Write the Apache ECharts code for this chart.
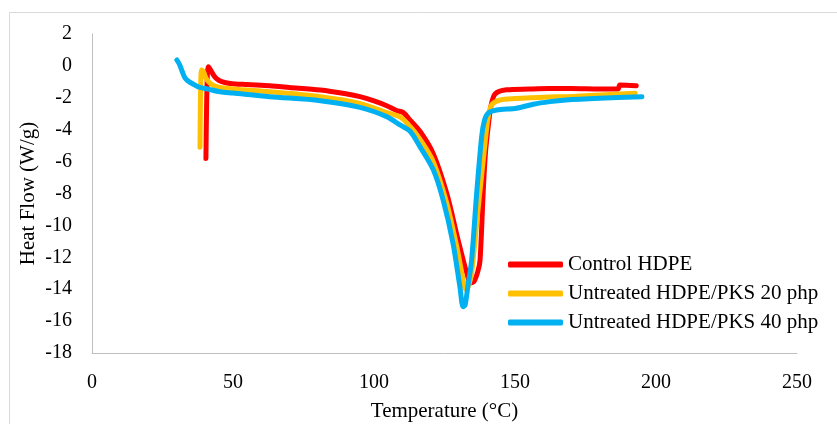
<!DOCTYPE html>
<html>
<head>
<meta charset="utf-8">
<script src="https://cdn.jsdelivr.net/npm/echarts@6/dist/echarts.min.js"></script>
<style>
  html, body { margin: 0; padding: 0; background: #fff; }
  #chart { width: 837px; height: 424px; }
</style>
</head>
<body>
<div id="chart"></div>
<script>
// series names
const seriesNames = ['Control HDPE', 'Untreated HDPE/PKS 20 php', 'Untreated HDPE/PKS 40 php'];
const seriesColors = ['#FF0000', '#FFC000', '#00B0F0'];

// [temperature (°C), heat flow (W/g)]
const controlHdpe = [
  [40.4, -5.8], [40.6, -3.0], [40.9, -0.6], [41.3, -0.05], [42.2, -0.3], [43.2, -0.6],
  [44.2, -0.8], [46, -0.98], [49, -1.1], [55, -1.17], [63, -1.25], [70, -1.35],
  [81, -1.51], [90, -1.75], [95, -1.93], [100, -2.2], [104.5, -2.5], [108, -2.8],
  [110.4, -2.93], [112.8, -3.4], [116.3, -4.1], [121, -5.5], [125.8, -8.0],
  [129.8, -10.9], [132.9, -13.0], [134.3, -13.6], [135.5, -13.5], [136.8, -12.9],
  [137.6, -12.2], [138.7, -8.0], [139.5, -5.5], [140.5, -3.8], [141.5, -2.5],
  [143, -1.75], [147, -1.5], [155, -1.45], [162, -1.42], [170, -1.42], [180, -1.45],
  [186.5, -1.45], [187.2, -1.2], [193, -1.25]
];

const pks20 = [
  [38.3, -5.1], [38.4, -3.0], [38.6, -0.8], [38.9, -0.26], [39.6, -0.4], [40.5, -0.8],
  [42, -1.1], [44.2, -1.3], [50, -1.45], [63, -1.62], [81, -1.93], [95, -2.35],
  [104.5, -2.93], [109.2, -3.2], [112.8, -3.8], [116.3, -4.6], [121, -6.0],
  [125.8, -8.6], [129.3, -11.3], [131.5, -13.3], [132.5, -14.0], [133.5, -13.8],
  [134.6, -13.0], [136.9, -9.0], [139.4, -4.8], [140.5, -3.2], [141.7, -2.45],
  [144.7, -2.14], [150, -2.05], [162, -1.95], [168.3, -1.93], [180, -1.82], [192.6, -1.72]
];

const pks40 = [
  [30.1, 0.37], [31, 0.1], [32, -0.35], [33, -0.76], [34.5, -1.0], [36.5, -1.2],
  [38.3, -1.35], [41, -1.45], [45.4, -1.62], [50, -1.7], [63, -1.93], [81, -2.18],
  [95, -2.6], [104.5, -3.18], [109.2, -3.7], [112.8, -4.1], [116.3, -5.06], [121, -6.5],
  [124.5, -8.4], [128, -11.1], [130.5, -13.9], [131.6, -15.1], [132.3, -15.0],
  [133.3, -13.8], [134.6, -12.2], [136.4, -8.0], [138.2, -4.4], [139.2, -3.4],
  [140.5, -2.96], [143.5, -2.76], [150.6, -2.65], [156.5, -2.4], [162.4, -2.24],
  [168, -2.14], [180, -2.03], [195, -1.93]
];

const seriesData = [controlHdpe, pks20, pks40];

const font = 'Liberation Serif';
const chart = echarts.init(document.getElementById('chart'));

chart.setOption({
  animation: false,
  backgroundColor: '#fff',
  graphic: [{
    type: 'rect',
    shape: { x: 9.5, y: 12.5, width: 860, height: 440 },
    style: { fill: 'none', stroke: '#d9d9d9', lineWidth: 1 },
    silent: true
  }],
  grid: { left: 92, right: 40, top: 34, bottom: 71, outerBoundsMode: 'none' },
  legend: {
    orient: 'vertical',
    left: 503,
    top: 248,
    itemWidth: 55,
    itemHeight: 6,
    itemGap: 6,
    icon: 'roundRect',
    textStyle: { fontFamily: font, fontSize: 21, color: '#000', lineHeight: 23 },
    data: seriesNames
  },
  xAxis: {
    type: 'value',
    min: 0,
    max: 250,
    interval: 50,
    name: 'Temperature (°C)',
    nameLocation: 'middle',
    nameGap: 48,
    nameMoveOverlap: false,
    nameTextStyle: { fontFamily: font, fontSize: 21, color: '#000' },
    axisLine: { show: true, onZero: false, lineStyle: { color: '#bfbfbf', width: 1 } },
    axisTick: { show: false },
    splitLine: { show: false },
    axisLabel: { fontFamily: font, fontSize: 20, color: '#000', margin: 20 }
  },
  yAxis: {
    type: 'value',
    min: -18,
    max: 2,
    interval: 2,
    name: 'Heat Flow (W/g)',
    nameLocation: 'middle',
    nameGap: 53,
    nameMoveOverlap: false,
    nameTextStyle: { fontFamily: font, fontSize: 21, color: '#000' },
    axisLine: { show: true, onZero: false, lineStyle: { color: '#bfbfbf', width: 1 } },
    axisTick: { show: false },
    splitLine: { show: false },
    axisLabel: { fontFamily: font, fontSize: 20, color: '#000', margin: 20 }
  },
  series: seriesData.map((d, i) => ({
    name: seriesNames[i],
    type: 'line',
    data: d,
    smooth: 0.3,
    showSymbol: false,
    symbol: 'none',
    color: seriesColors[i],
    lineStyle: { width: 5, color: seriesColors[i], cap: 'round', join: 'round' }
  }))
});
</script>
</body>
</html>
